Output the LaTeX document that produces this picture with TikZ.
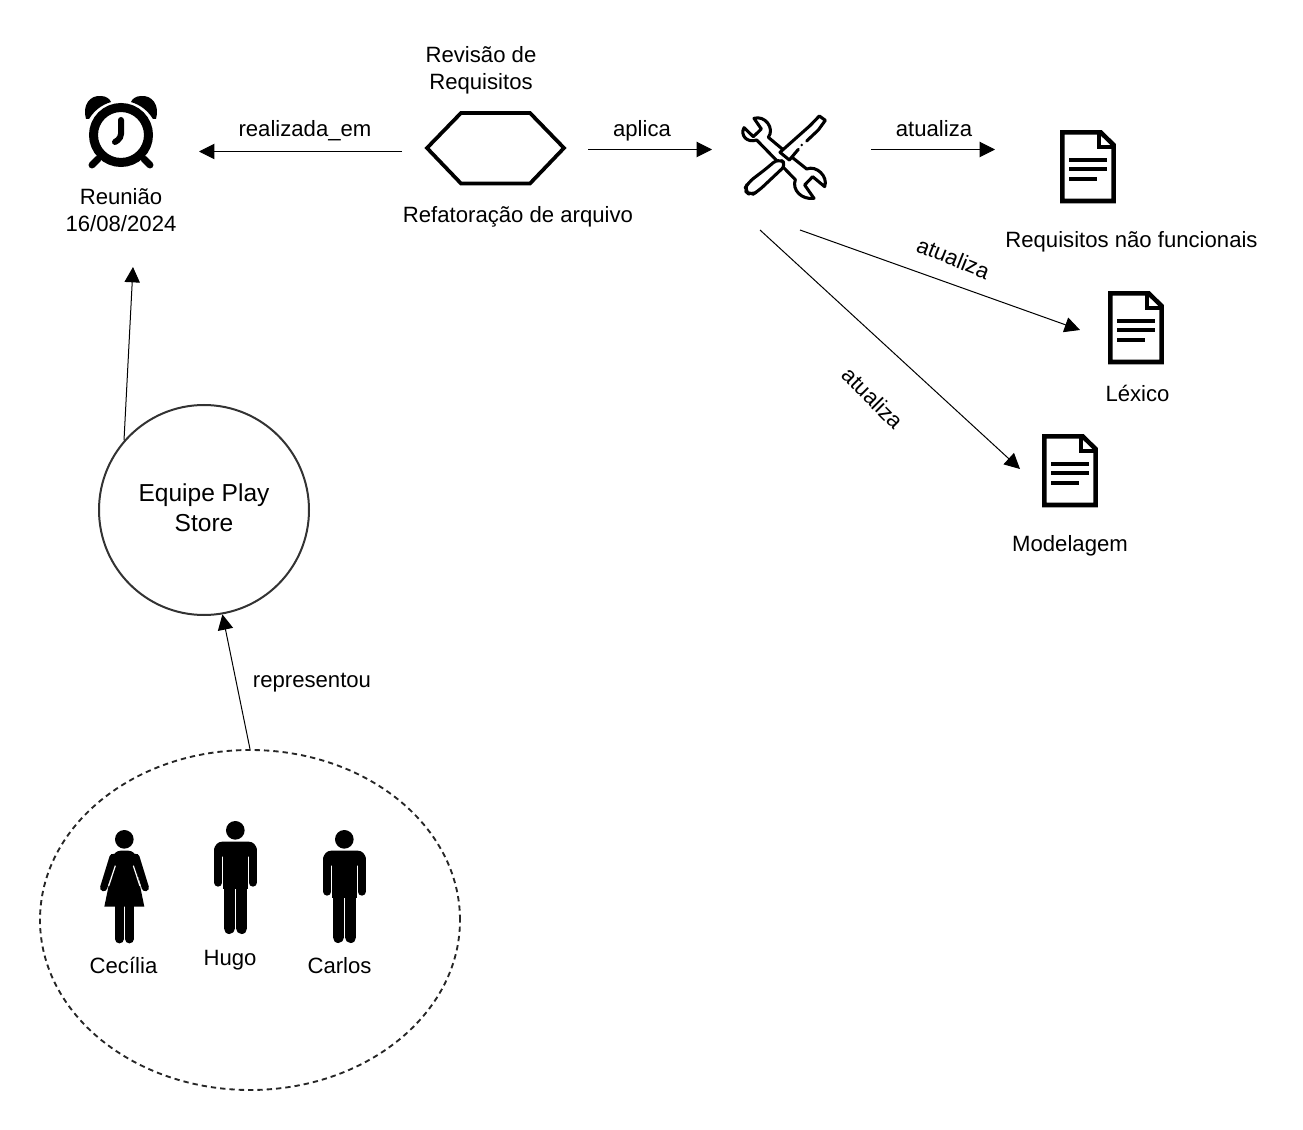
\documentclass[tikz,border=0pt]{standalone}
\usepackage{fontspec}
\setmainfont{Liberation Sans}
\usetikzlibrary{arrows.meta,shapes.geometric}
\tikzset{
	seta/.style={line width=0.75pt, -{Triangle[length=11.5pt,width=11.5pt]}},
	rotulo/.style={font=\fontsize{16.6}{20.2}\selectfont, align=center, inner sep=0pt},
}
\def\docicon(#1,#2){
	\begin{scope}[shift={(#1,#2)},scale=1/3]
		\draw[line width=3.4pt, miter limit=10] (67,37) -- (182,37) -- (221,75) -- (221,243) -- (67,243) -- cycle;
		\draw[line width=3pt] (182,37) -- (178,37) -- (178,80) -- (221,80);
		\draw[line width=3pt] (88,120) -- (200,120) (88,148) -- (200,148) (88,176) -- (170,176);
	\end{scope}
}
\def\manicon(#1,#2){
	\begin{scope}[shift={(#1,#2)},scale=1/3]
		\fill (763,73) circle (28);
		\fill[rounded corners=6pt] (700,107) rectangle (827,152);
		\fill (727,107) rectangle (800,250);
		\draw[line width=6pt, line cap=round] (712,130) -- (712,230) (815,130) -- (815,230);
		\draw[line width=8.5pt, line cap=round] (745,240) -- (745,367) (782,240) -- (782,367);
	\end{scope}
}

\begin{document}
\begin{tikzpicture}[x=0.75pt, y=-0.75pt]
	\useasboundingbox (0,0) rectangle (1303,1130);

	%%%%% reuniao %%%%%
	\draw[line width=6.75pt] (121,135) circle (27.5);
	\fill (86,119) .. controls (82,105) and (90,95) .. (101,96) .. controls (106,96) and (110,99) .. (111,102) .. controls (101,105) and (94,111) .. (89,119) -- cycle;
	\fill (156,119) .. controls (160,105) and (152,95) .. (141,96) .. controls (136,96) and (132,99) .. (131,102) .. controls (141,105) and (148,111) .. (153,119) -- cycle;
	\draw[line width=5.2pt, line cap=round] (92,165) -- (98,159) (150,165) -- (144,159);
	\draw[line width=4.5pt, line cap=round, rounded corners=3pt] (121,120) -- (121,138) -- (115,142);
	\node[rotulo] (reuniao) at (121,210) {Reunião\\16/08/2024};
	\coordinate (reuniaodir) at (199,151.5);
	\coordinate (reuniaobaixo) at (133,267);

	%%%%% revisao %%%%%
	\draw[line width=2.8pt] (427,148) -- (461,113) -- (530,113) -- (564,148) -- (530,183.5) -- (461,183.5) -- cycle;
	\node[rotulo] (revisao) at (481,70.5) {Revisão de\\Requisitos};
	\node[rotulo] (refatoracao) at (518,217) {Refatoração de arquivo};
	\coordinate (revisaoesq) at (402,151.5);
	\coordinate (revisaodir) at (588,149.5);

	%%%%% ferramentas %%%%%
	\begin{scope}[shift={(730,105)},scale=1/3]
		\draw[line width=2.3pt, line join=round] (72,40) .. controls (105,30) and (135,70) .. (115,97) -- (190,160) -- (230,192) .. controls (260,180) and (295,215) .. (284,245) -- (248,215) -- (224,240) -- (252,280) .. controls (215,285) and (185,255) .. (196,224) -- (80,105) .. controls (50,115) and (30,90) .. (42,68) -- (70,95) -- (94,72) -- cycle;
		\fill[white] (150,142) -- (240,62) -- (265,75) -- (178,165) -- cycle;
		\draw[line width=2.3pt, line join=round, line cap=round] (178,165) -- (150,142) -- (240,62) -- (268,33) -- (286,46) -- (265,75) -- (230,108);
		\draw[line width=2.3pt, line cap=round] (205,133) -- (178,165);
		\fill (215,120) circle (4);
		\draw[line width=2.3pt, line join=round, fill=white, rounded corners=5pt] (145,160) -- (110,190) -- (55,232) -- (42,255) -- (62,272) -- (85,258) -- (170,178) -- cycle;
	\end{scope}
	\coordinate (ferramentasdir) at (871,149.5);
	\coordinate (ferramentasa) at (800,230);
	\coordinate (ferramentasb) at (760,230);
	\coordinate (ferramentasesq) at (712,149.5);

	%%%%% documentos %%%%%
	\docicon(1040,120)
	\docicon(1088,281)
	\docicon(1022,424)
	\node[rotulo] (requisitos) at (1131.5,242) {Requisitos não funcionais};
	\node[rotulo] (lexico) at (1137.5,393.5) {Léxico};
	\node[rotulo] (modelagem) at (1070,546) {Modelagem};
	\coordinate (requisitosesq) at (995,149.5);
	\coordinate (lexicoesq) at (1080,330);
	\coordinate (modelagemesq) at (1020,469);

	%%%%% equipe %%%%%
	\node[draw, circle, line width=1.5pt, draw=black!80, minimum size=157.5pt, inner sep=0pt] (equipe) at (204,510) {};
	\node[rotulo, font=\fontsize{18.4}{22.2}\selectfont] (equipetexto) at (204,507.5) {Equipe Play\\Store};
	\node[draw, ellipse, line width=1.4pt, draw=black!85, dash pattern=on 4pt off 3pt, minimum width=315pt, minimum height=255pt, inner sep=0pt] (grupo) at (250,920) {};

	%%%%% pessoas %%%%%
	\begin{scope}[shift={(90,815)},scale=1/3]
		\fill (103,73) circle (28);
		\fill[rounded corners=6pt] (68,107) -- (139,107) -- (139,150) -- (68,150) -- cycle;
		\draw[line width=5.4pt, line cap=round] (69,127) -- (41,218) (138,127) -- (166,218);
		\fill (76,115) -- (130,115) -- (163,275) -- (43,275) -- cycle;
		\draw[white, line width=0.9pt] (76,152) -- (56,213) (130,152) -- (150,213);
		\draw[line width=6.6pt, line cap=round] (88,275) -- (88,372) (118,275) -- (118,372);
	\end{scope}
	\manicon(90,815)
	\manicon(-19,806)
	\node[rotulo] (cecilia) at (123.5,965.5) {Cecília};
	\node[rotulo] (hugo) at (230,960) {Hugo};
	\node[rotulo] (carlos) at (339.5,965.5) {Carlos};

	%%%%% ligacoes %%%%%
	\draw[seta] (revisaoesq) -- (reuniaodir);
	\draw[seta] (revisaodir) -- (ferramentasesq);
	\draw[seta] (ferramentasdir) -- (requisitosesq);
	\draw[seta] (ferramentasa) -- (lexicoesq);
	\draw[seta] (ferramentasb) -- (modelagemesq);
	\draw[seta] (equipe.139) -- (reuniaobaixo);
	\draw[seta] (grupo.north) -- (equipe.-80);

	\node[rotulo] (realizada) at (305,131) {realizada\_em};
	\node[rotulo] (aplica) at (642,131) {aplica};
	\node[rotulo] (atualizaa) at (934,129) {atualiza};
	\node[rotulo, rotate=-22] (atualizab) at (953.5,258) {atualiza};
	\node[rotulo, rotate=-45] (atualizac) at (873,398) {atualiza};
	\node[rotulo] (representou) at (312,683) {representou};
\end{tikzpicture}
\end{document}
